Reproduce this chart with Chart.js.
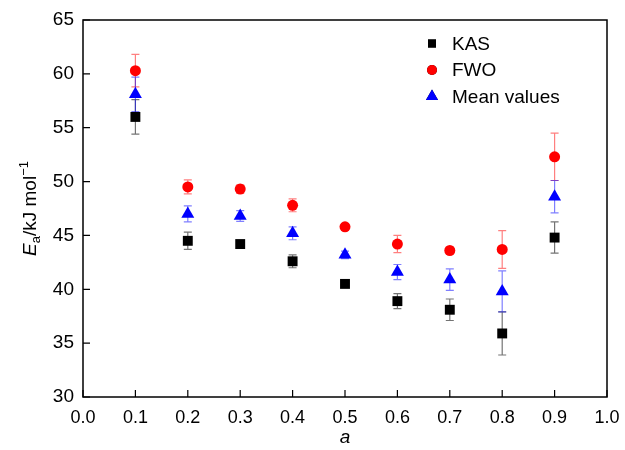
<!DOCTYPE html>
<html>
<head>
<meta charset="utf-8">
<script src="https://cdn.jsdelivr.net/npm/chart.js@4.4.1/dist/chart.umd.min.js"></script>
<style>
  body { margin: 0; background: #fff; }
  canvas { display: block; }
</style>
</head>
<body>
<canvas id="eaChart" width="625" height="450"></canvas>
<script>
// conversion degrees and activation energies
const alphaValues = [0.1, 0.2, 0.3, 0.4, 0.5, 0.6, 0.7, 0.8, 0.9];
const kasValues = [56.0, 44.5, 44.2, 42.6, 40.5, 38.9, 38.1, 35.9, 44.8];
const kasErrors = [1.6, 0.8, 0.3, 0.6, 0.3, 0.7, 1.0, 2.0, 1.45];
const fwoValues = [60.3, 49.5, 49.3, 47.8, 45.8, 44.2, 43.6, 43.7, 52.3];
const fwoErrors = [1.5, 0.65, 0.4, 0.6, 0.3, 0.8, 0.3, 1.75, 2.2];
const meanValues = [58.1, 47.0, 46.8, 45.2, 43.2, 41.6, 40.9, 39.8, 48.6];
const meanErrors = [1.6, 0.75, 0.5, 0.6, 0.35, 0.7, 1.0, 1.9, 1.5];
const seriesLabels = ['KAS', 'FWO', 'Mean values'];
const xTicks = [0, 0.1, 0.2, 0.3, 0.4, 0.5, 0.6, 0.7, 0.8, 0.9, 1.0];
const yTicks = [30, 35, 40, 45, 50, 55, 60, 65];

const FONT = '"Liberation Sans", Arial, Helvetica, sans-serif';

function toPoints(values) {
    return values.map((v, i) => ({ x: alphaValues[i], y: v }));
}

// error bars drawn under the markers
const errorBars = {
    id: 'errorBars',
    beforeDatasetsDraw(chart) {
        const ctx = chart.ctx;
        const xs = chart.scales.x, ys = chart.scales.y;
        chart.data.datasets.forEach((ds) => {
            ctx.save();
            ctx.strokeStyle = ds.errorColor;
            ctx.lineWidth = 1.2;
            ds.data.forEach((p, i) => {
                const err = ds.errors[i];
                const px = xs.getPixelForValue(p.x);
                const top = ys.getPixelForValue(p.y + err);
                const bot = ys.getPixelForValue(p.y - err);
                ctx.beginPath();
                ctx.moveTo(px, top); ctx.lineTo(px, bot);
                ctx.moveTo(px - 4, top); ctx.lineTo(px + 4, top);
                ctx.moveTo(px - 4, bot); ctx.lineTo(px + 4, bot);
                ctx.stroke();
            });
            ctx.restore();
        });
    }
};

// frame, inward ticks, axis titles and legend
const decorations = {
    id: 'decorations',
    afterDraw(chart) {
        const ctx = chart.ctx;
        const area = chart.chartArea;
        const xs = chart.scales.x, ys = chart.scales.y;
        ctx.save();
        ctx.strokeStyle = '#000';
        ctx.lineWidth = 1.5;
        ctx.strokeRect(area.left, area.top, area.right - area.left, area.bottom - area.top);

        ctx.lineWidth = 1.2;
        ctx.beginPath();
        yTicks.forEach((v) => {
            const py = ys.getPixelForValue(v);
            ctx.moveTo(area.left, py); ctx.lineTo(area.left + 7, py);
        });
        xTicks.forEach((v) => {
            const px = xs.getPixelForValue(v);
            ctx.moveTo(px, area.bottom); ctx.lineTo(px, area.bottom - 7);
        });
        ctx.stroke();

        // x title
        ctx.fillStyle = '#000';
        ctx.font = 'italic 19px ' + FONT;
        ctx.textAlign = 'center';
        ctx.textBaseline = 'alphabetic';
        ctx.fillText('a', (area.left + area.right) / 2, 443);

        // y title: E_a/kJ mol^-1
        const parts = [
            { t: 'E', f: 'italic 19px ' + FONT, dy: 0 },
            { t: 'a', f: '13px ' + FONT, dy: 4 },
            { t: '/kJ mol', f: '19px ' + FONT, dy: 0 },
            { t: '\u22121', f: '13px ' + FONT, dy: -8 }
        ];
        let total = 0;
        parts.forEach((p) => { ctx.font = p.f; p.w = ctx.measureText(p.t).width; total += p.w; });
        ctx.translate(36, (area.top + area.bottom) / 2);
        ctx.rotate(-Math.PI / 2);
        ctx.textAlign = 'left';
        let cx = -total / 2;
        parts.forEach((p) => {
            ctx.font = p.f;
            ctx.fillText(p.t, cx, p.dy);
            cx += p.w;
        });
        ctx.restore();

        // legend
        ctx.save();
        const lx = area.right - 175;
        chart.data.datasets.forEach((ds, i) => {
            const ly = area.top + 23.5 + i * 26.5;
            Chart.helpers.drawPoint(ctx, {
                pointStyle: ds.pointStyle,
                radius: ds.legendRadius,
                borderWidth: 0
            }, lx, ly);
            ctx.fillStyle = ds.backgroundColor;
            ctx.fill();
            ctx.fillStyle = '#000';
            ctx.font = '19px ' + FONT;
            ctx.textAlign = 'left';
            ctx.textBaseline = 'middle';
            ctx.fillText(ds.label, lx + 20, ly + 1);
        });
        ctx.restore();
    }
};

new Chart(document.getElementById('eaChart'), {
    type: 'scatter',
    data: {
        datasets: [
            {
                label: seriesLabels[0],
                data: toPoints(kasValues),
                errors: kasErrors,
                errorColor: 'rgba(0, 0, 0, 0.55)',
                pointStyle: 'rect',
                pointRadius: 7,
                legendRadius: 5.7,
                backgroundColor: '#000000',
                borderColor: '#000000',
                borderWidth: 0
            },
            {
                label: seriesLabels[1],
                data: toPoints(fwoValues),
                errors: fwoErrors,
                errorColor: 'rgba(255, 0, 0, 0.5)',
                pointStyle: 'circle',
                pointRadius: 5.5,
                legendRadius: 5,
                backgroundColor: '#ff0000',
                borderColor: '#ff0000',
                borderWidth: 0
            },
            {
                label: seriesLabels[2],
                data: toPoints(meanValues),
                errors: meanErrors,
                errorColor: 'rgba(0, 0, 255, 0.5)',
                pointStyle: 'triangle',
                pointRadius: 7.5,
                legendRadius: 7,
                backgroundColor: '#0000ff',
                borderColor: '#0000ff',
                borderWidth: 0
            }
        ]
    },
    options: {
        responsive: false,
        animation: false,
        layout: { padding: { top: 20, right: 18, left: 0, bottom: 0 } },
        plugins: {
            legend: { display: false },
            tooltip: { enabled: false }
        },
        scales: {
            x: {
                type: 'linear',
                min: 0,
                max: 1,
                afterBuildTicks: (scale) => { scale.ticks = xTicks.map((v) => ({ value: v })); },
                afterFit: (scale) => {
                    scale.height = 53;
                    scale.paddingLeft = 0;
                    scale.paddingRight = 0;
                },
                grid: { display: false, drawTicks: false },
                border: { display: false },
                ticks: {
                    padding: 10,
                    color: '#000',
                    font: { family: FONT, size: 18 },
                    maxRotation: 0,
                    callback: (v) => Number(v).toFixed(1)
                }
            },
            y: {
                min: 30,
                max: 65,
                afterBuildTicks: (scale) => { scale.ticks = yTicks.map((v) => ({ value: v })); },
                afterFit: (scale) => {
                    scale.width = 83;
                    scale.paddingTop = 0;
                    scale.paddingBottom = 0;
                },
                grid: { display: false, drawTicks: false },
                border: { display: false },
                ticks: {
                    padding: 9,
                    color: '#000',
                    font: { family: FONT, size: 19 }
                }
            }
        }
    },
    plugins: [errorBars, decorations]
});
</script>
</body>
</html>
